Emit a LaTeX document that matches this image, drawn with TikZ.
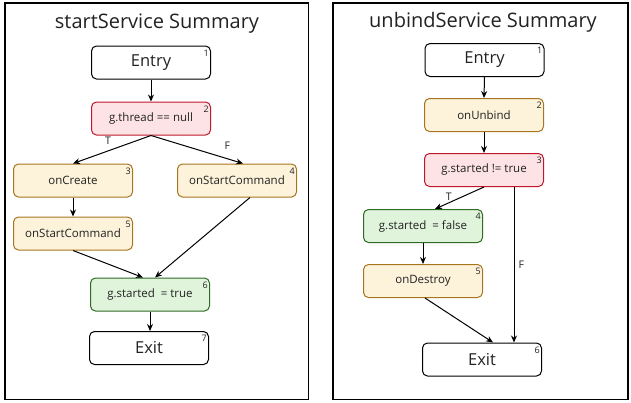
\documentclass[tikz,border=0pt]{standalone}
\usepackage{fontspec}
\setmainfont{Open Sans}
\usetikzlibrary{arrows.meta}
\definecolor{redfill}{HTML}{FDE3E5}
\definecolor{redline}{HTML}{C0182B}
\definecolor{yelfill}{HTML}{FDF3DA}
\definecolor{yelline}{HTML}{A8741E}
\definecolor{grnfill}{HTML}{E0F4DC}
\definecolor{grnline}{HTML}{2E6B25}
\definecolor{txt}{HTML}{222222}
\tikzset{
  blk/.style={draw=black, rounded corners=5pt, minimum width=119pt, minimum height=33pt, inner sep=0pt, line width=1pt, font=\fontsize{11.5}{13}\selectfont, text=txt},
  term/.style={blk, fill=white, font=\fontsize{16.5}{19}\selectfont},
  cond/.style={blk, draw=redline, fill=redfill},
  call/.style={blk, draw=yelline, fill=yelfill},
  assign/.style={blk, draw=grnline, fill=grnfill},
  num/.style={font=\fontsize{9}{10}\selectfont, anchor=north east, inner sep=0pt, text=txt},
  edge/.style={-{Stealth[length=7pt,width=6pt]}, line width=1pt},
  lbl/.style={font=\fontsize{10.5}{12}\selectfont, text=txt, inner sep=1pt},
  frame/.style={draw=black, line width=1.3pt},
  ttl/.style={font=\fontsize{20}{24}\selectfont, text=txt}
}
\begin{document}
\begin{tikzpicture}[x=1pt,y=-1pt]
\useasboundingbox (0,0) rectangle (631,402);
% left panel
\draw[frame] (5,3) rectangle (308.5,399.5);
\node[ttl] (t1) at (157,24) {startService Summary};
\node[term] (a1) at (151,62.5) {Entry};
\node[cond] (a2) at (151,118.5) {g.thread == null};
\node[call] (a3) at (73,180.5) {onCreate};
\node[call] (a4) at (237,180.5) {onStartCommand};
\node[call] (a5) at (73,233.5) {onStartCommand};
\node[assign] (a6) at (150,294.5) {g.started\ \ = true};
\node[term] (a7) at (149,348) {Exit};
\foreach \n/\k in {a1/1,a2/2,a3/3,a4/4,a5/5,a6/6,a7/7}
  \node[num] at ([xshift=-2pt,yshift=-4pt]\n.north east) {\k};
\draw[edge] (a1.south) -- (a2.north);
\draw[edge] (a2.south) -- node[lbl, pos=0.55, above=5pt] {T} (a3.north);
\draw[edge] (a2.south) -- node[lbl, pos=0.83, above=8pt] {F} ([xshift=6pt]a4.north);
\draw[edge] (a3.south) -- (a5.north);
\draw[edge] (a5.south) -- ([xshift=-7pt]a6.north);
\draw[edge] ([xshift=13pt]a4.south) -- ([xshift=5pt]a6.north);
\draw[edge] (a6.south) -- ([xshift=1pt]a7.north);
% right panel
\draw[frame] (333,3) rectangle (628,399.5);
\node[ttl] (t2) at (483,22) {unbindService Summary};
\node[term] (b1) at (484.5,60) {Entry};
\node[call] (b2) at (484,115) {onUnbind};
\node[cond] (b3) at (484,170) {g.started != true};
\node[assign] (b4) at (423,226) {g.started\ \ = false};
\node[call] (b5) at (423,281) {onDestroy};
\node[term] (b6) at (482,359.5) {Exit};
\foreach \n/\k in {b1/1,b2/2,b3/3,b4/4,b5/5,b6/6}
  \node[num] at ([xshift=-2pt,yshift=-4pt]\n.north east) {\k};
\draw[edge] (b1.south) -- (b2.north);
\draw[edge] (b2.south) -- (b3.north);
\draw[edge] (b3.south) -- node[lbl, pos=0.72, above=1pt] {T} ([xshift=12pt]b4.north);
\draw[edge] ([xshift=30pt]b3.south) -- node[lbl, pos=0.5, right=3pt] {F} ([xshift=32pt]b6.north);
\draw[edge] (b4.south) -- (b5.north);
\draw[edge] ([xshift=2pt]b5.south) -- ([xshift=11pt]b6.north);
\end{tikzpicture}
\end{document}
